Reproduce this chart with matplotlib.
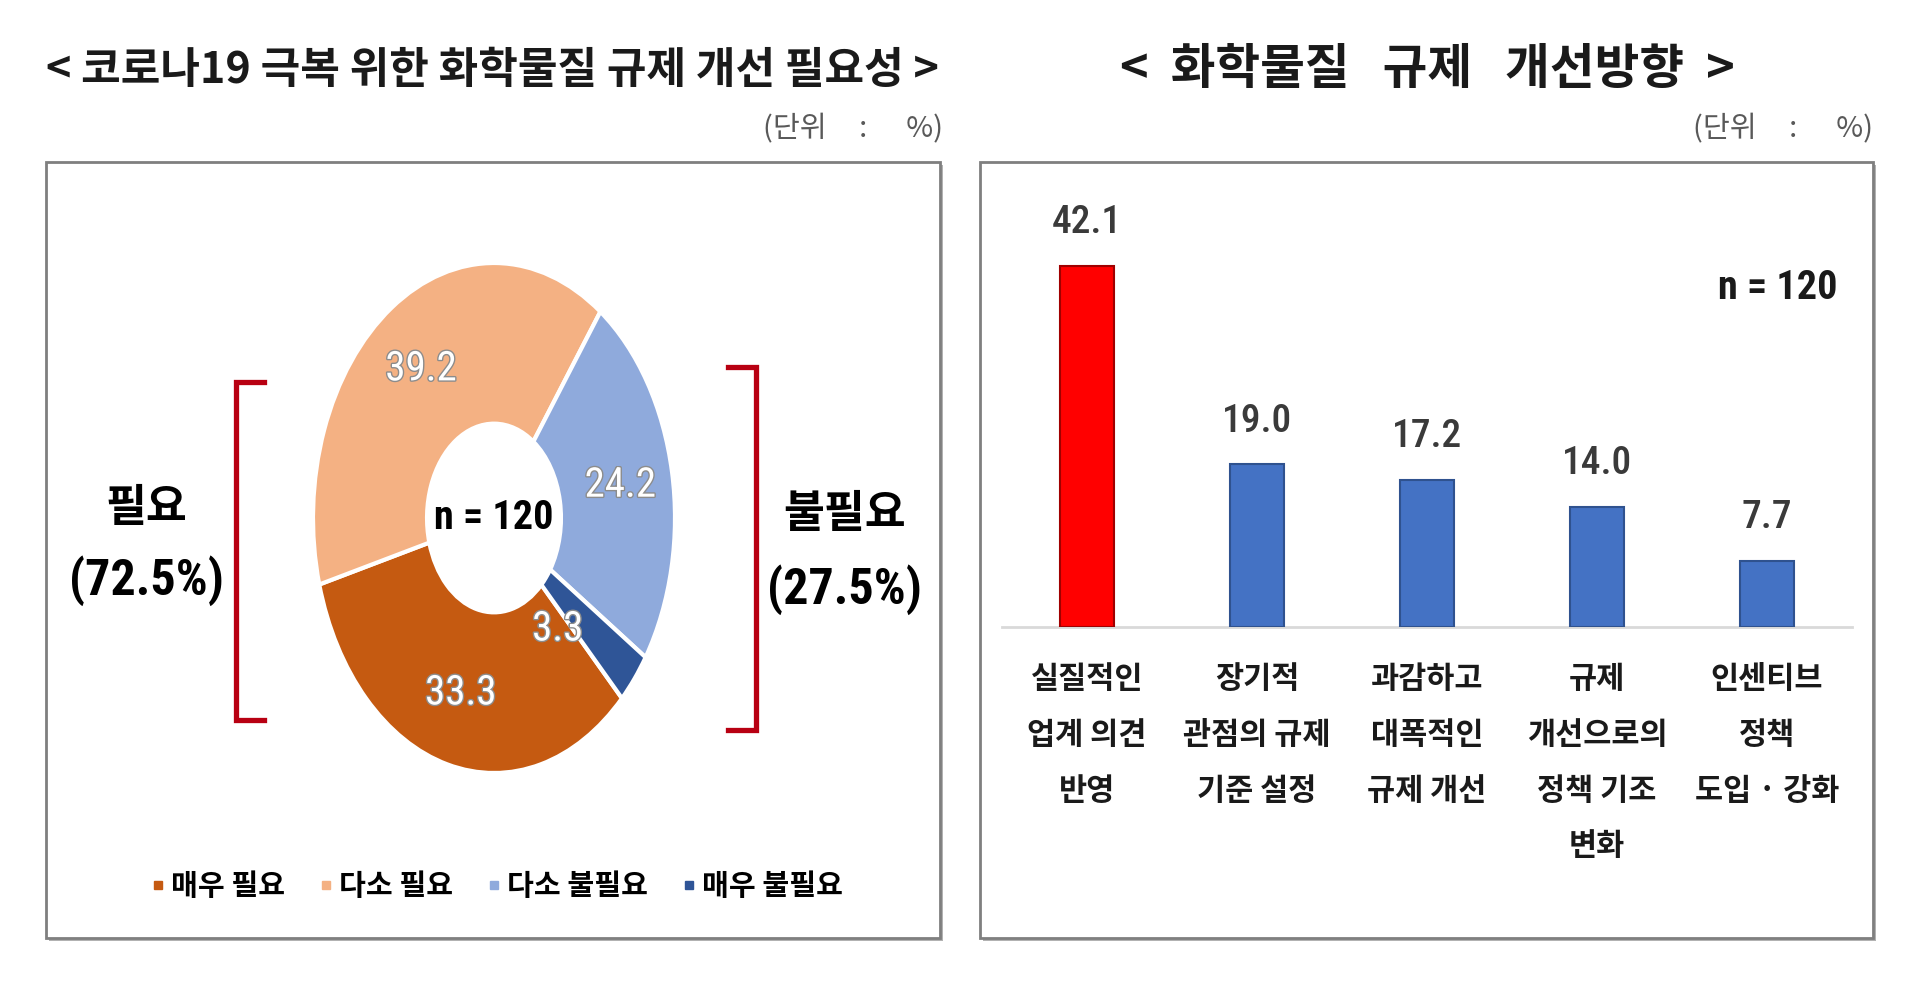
import matplotlib
matplotlib.use('Agg')
import numpy as np
import matplotlib.pyplot as plt
from matplotlib import font_manager
from matplotlib.patches import Rectangle
from matplotlib.lines import Line2D
import matplotlib.patheffects as pe

# ---------------- data ----------------
left_title = '< 코로나19 극복 위한 화학물질 규제 개선 필요성 >'
right_title = '<  화학물질   규제   개선방향  >'
unit_text = '(단위     :      %)'

donut_labels = ['매우 필요', '다소 필요', '다소 불필요', '매우 불필요']
donut_values = [33.3, 39.2, 24.2, 3.3]
donut_colors = ['#C55A11', '#F4B183', '#8FAADC', '#2F5597']
sample_text = 'n = 120'

need_label = '필요'
need_pct = 72.5
noneed_label = '불필요'
noneed_pct = 27.5

bar_categories = ['실질적인\n업계 의견\n반영',
                  '장기적\n관점의 규제\n기준 설정',
                  '과감하고\n대폭적인\n규제 개선',
                  '규제\n개선으로의\n정책 기조\n변화',
                  '인센티브\n정책\n도입 · 강화']
bar_values = [42.1, 19.0, 17.2, 14.0, 7.7]
bar_colors = ['#FF0000', '#4472C4', '#4472C4', '#4472C4', '#4472C4']
bar_edges = ['#A00000', '#2F528F', '#2F528F', '#2F528F', '#2F528F']

# ---------------- fonts ----------------
KR = 'Noto Sans CJK KR'


def has_font(name):
    try:
        font_manager.findfont(font_manager.FontProperties(family=name),
                              fallback_to_default=False)
        return True
    except Exception:
        return False


NUM = [KR, 'DejaVu Sans']
nscale = 1.0
for cand in ['Liberation Sans Narrow', 'Roboto Condensed', 'Open Sans Condensed']:
    if has_font(cand):
        NUM = [cand, KR]
        nscale = 1.18
        break

plt.rcParams['font.family'] = [KR, 'DejaVu Sans']

W, H = 1920, 982
fig = plt.figure(figsize=(W / 100, H / 100), dpi=100)
fig.patch.set_facecolor('white')


def fx(x):
    return x / W


def fy(y):
    return 1 - y / H


# ---------------- panel boxes ----------------
for x0, x1 in [(46, 940), (980, 1873)]:
    r = Rectangle((fx(x0), fy(938)), fx(x1 - x0), (938 - 162) / H,
                  transform=fig.transFigure, facecolor='white',
                  edgecolor='#7F7F7F', linewidth=2, zorder=0)
    r.set_path_effects([pe.SimplePatchShadow(offset=(2, -2), shadow_rgbFace='#808080', alpha=0.6),
                        pe.Normal()])
    fig.add_artist(r)

# ---------------- titles ----------------
fig.text(fx(492), fy(70), left_title, ha='center', va='center',
         fontsize=31, fontweight='bold', color='#1a1a1a')
fig.text(fx(1427), fy(70), right_title, ha='center', va='center',
         fontsize=35, fontweight='bold', color='#1a1a1a')
fig.text(fx(943), fy(129), unit_text, ha='right', va='center',
         fontsize=21, color='#595959')
fig.text(fx(1873), fy(129), unit_text, ha='right', va='center',
         fontsize=21, color='#595959')

# ---------------- donut ----------------
cx, cy, rx, ry = 494, 518, 181, 255
ax_pie = fig.add_axes([fx(cx - rx), fy(cy + ry), 2 * rx / W, 2 * ry / H])
wedges, _ = ax_pie.pie(donut_values, colors=donut_colors, startangle=-45,
                       counterclock=False, radius=1,
                       wedgeprops=dict(width=0.63, edgecolor='white', linewidth=3))
ax_pie.set_aspect('auto')
ax_pie.set_xlim(-1, 1)
ax_pie.set_ylim(-1, 1)
ax_pie.axis('off')
for w in wedges:
    w.set_clip_on(False)

for w, v in zip(wedges, donut_values):
    if v > 5:
        ang = np.deg2rad((w.theta1 + w.theta2) / 2)
        rr = 0.71
    else:
        ang = np.deg2rad(min(w.theta1, w.theta2) - 6)
        rr = 0.56
    ax_pie.text(rr * np.cos(ang), rr * np.sin(ang), f'{v:.1f}',
                ha='center', va='center', fontsize=25 * nscale, family=NUM,
                color='white',
                path_effects=[pe.Stroke(linewidth=2, foreground='#8c8c8c'), pe.Normal()])

ax_pie.text(0, 0, sample_text, ha='center', va='center', fontsize=24.5 * nscale,
            family=NUM, fontweight='bold', color='black')

# brackets
bc = '#B80012'
fig.add_artist(Line2D([fx(264), fx(236), fx(236), fx(264)],
                      [fy(382), fy(382), fy(720), fy(720)],
                      transform=fig.transFigure, color=bc, linewidth=3.8,
                      solid_joinstyle='miter'))
fig.add_artist(Line2D([fx(728), fx(756), fx(756), fx(728)],
                      [fy(367), fy(367), fy(730), fy(730)],
                      transform=fig.transFigure, color=bc, linewidth=3.8,
                      solid_joinstyle='miter'))

fig.text(fx(146), fy(508), need_label, ha='center', va='center',
         fontsize=32, fontweight='bold', color='black')
fig.text(fx(146), fy(581), f'({need_pct:.1f}%)', ha='center', va='center',
         fontsize=30.5 * nscale, family=NUM, fontweight='bold', color='black')
fig.text(fx(845), fy(514), noneed_label, ha='center', va='center',
         fontsize=32, fontweight='bold', color='black')
fig.text(fx(845), fy(590), f'({noneed_pct:.1f}%)', ha='center', va='center',
         fontsize=30.5 * nscale, family=NUM, fontweight='bold', color='black')

# legend
handles = [Line2D([0], [0], marker='s', linestyle='none', markersize=6,
                  markerfacecolor=c, markeredgecolor=c) for c in donut_colors]
fig.legend(handles, donut_labels, loc='center', bbox_to_anchor=(fx(496), fy(886)),
           ncol=4, frameon=False, handlelength=0.6, handletextpad=0.15,
           columnspacing=1.1, prop=dict(family=KR, size=21, weight='bold'))

# ---------------- bar chart ----------------
unit = 8.575  # px per %
ymax = 50
ax_bar = fig.add_axes([fx(1002), fy(627), 850 / W, ymax * unit / H])
x = np.arange(len(bar_values))
bars = ax_bar.bar(x, bar_values, width=0.32, color=bar_colors,
                  edgecolor=bar_edges, linewidth=1.5, zorder=3)
ax_bar.set_xlim(-0.5, len(bar_values) - 0.5)
ax_bar.set_ylim(0, ymax)
for s in ['top', 'right', 'left']:
    ax_bar.spines[s].set_visible(False)
ax_bar.spines['bottom'].set_color('#D9D9D9')
ax_bar.spines['bottom'].set_linewidth(2)
ax_bar.set_yticks([])
ax_bar.set_xticks(x)
ax_bar.set_xticklabels(bar_categories, fontsize=22, fontweight='bold',
                       color='#1a1a1a', linespacing=1.95)
ax_bar.tick_params(axis='x', length=0, pad=26)
ax_bar.patch.set_alpha(0)

for b, v in zip(bars, bar_values):
    ax_bar.annotate(f'{v:.1f}', (b.get_x() + b.get_width() / 2, v),
                    xytext=(0, 31), textcoords='offset points',
                    ha='center', va='center', fontsize=24 * nscale,
                    family=NUM, color='#3a3a3a', fontweight='medium')

fig.text(fx(1837), fy(288), sample_text, ha='right', va='center',
         fontsize=24.5 * nscale, family=NUM, fontweight='bold', color='#1a1a1a')

fig.savefig('out.png', dpi=100)
